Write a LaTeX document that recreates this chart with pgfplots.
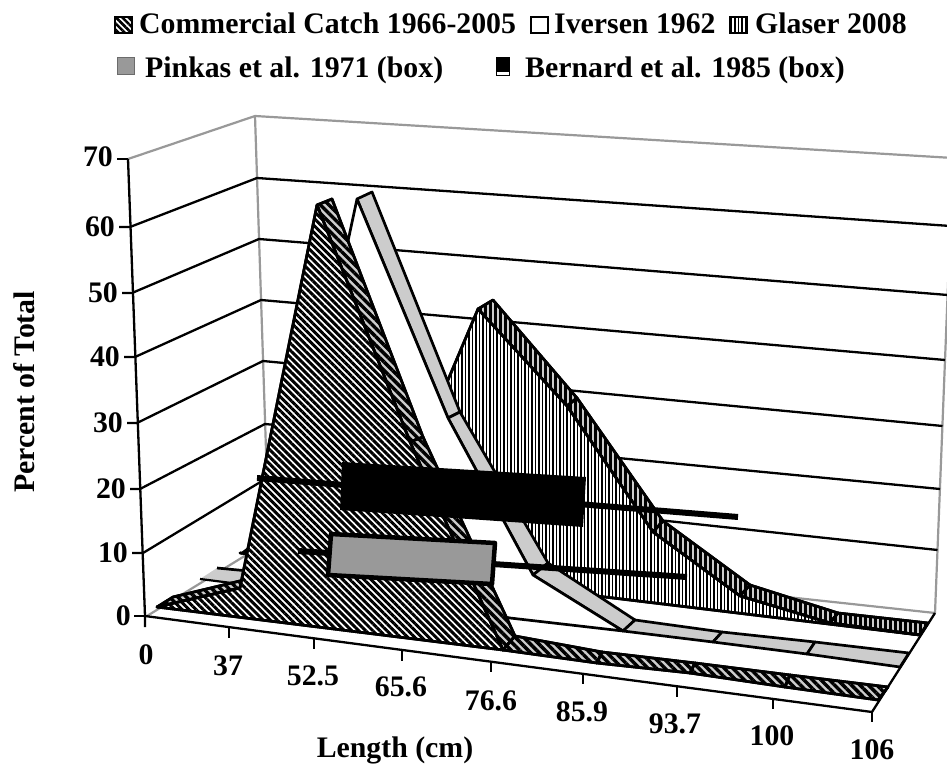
\documentclass[border=0pt]{standalone}
\usepackage{fontspec}
\setmainfont{Liberation Serif}
\usepackage{pgfplots}
\pgfplotsset{compat=1.18}
\usetikzlibrary{patterns.meta}
\definecolor{wallgrey}{gray}{0.6}
\definecolor{ribgrey}{gray}{0.8}
\definecolor{boxgrey}{gray}{0.6}
\tikzset{
  ln/.style={draw=black,line width=#1,line join=round,line cap=butt},
  comF/.style={draw=black,line width=2.7pt,line join=round,fill=white,postaction={pattern={Lines[angle=-45,distance=5pt,line width=3pt]},pattern color=black}},
  comR/.style={draw=black,line width=2.7pt,line join=round,fill=ribgrey,postaction={pattern={Lines[angle=-45,distance=6pt,line width=3.4pt]},pattern color=black}},
  glaF/.style={draw=black,line width=2.7pt,line join=round,fill=white,postaction={pattern={Lines[angle=90,distance=3.5pt,line width=1.8pt]},pattern color=black}},
  glaR/.style={draw=black,line width=2.7pt,line join=round,fill=ribgrey,postaction={pattern={Lines[angle=90,distance=5pt,line width=3pt]},pattern color=black}},
  ivF/.style={draw=black,line width=2.7pt,line join=round,fill=white},
  ivR/.style={draw=black,line width=2.7pt,line join=round,fill=ribgrey},
  txt/.style={font=\fontsize{29.8}{32}\selectfont\bfseries,inner sep=0pt},
}
\begin{document}
\begin{tikzpicture}
\begin{axis}[
  scale only axis, width=947pt, height=767pt,
  xmin=0, xmax=947, ymin=0, ymax=767, y dir=reverse,
  hide axis, clip=true,
]
% page background
\addplot[fill=white,draw=none] coordinates {(0,0)(947,0)(947,767)(0,767)} --cycle;
% walls (picture coordinates of the Excel 3-D projection)
\addplot[draw=wallgrey,line width=2.2pt] coordinates {(128,159)(255,116)(953,158)};
\addplot[draw=wallgrey,line width=2.2pt] coordinates {(255,116)(269,541)};
\addplot[draw=wallgrey,line width=2.2pt] coordinates {(953,158)(935,613)};
\addplot[draw=wallgrey,line width=2.2pt] coordinates {(147,616)(269,541)(935,613)};
% grid 60..10 with ticks
\addplot[ln=2.3pt] coordinates {(119,227)(130,227)(257,178)(950.5,226)};
\addplot[ln=2.3pt] coordinates {(122,293)(132,293)(259,239)(947.7,295)};
\addplot[ln=2.3pt] coordinates {(124,357)(135,357)(261,300)(945,360)};
\addplot[ln=2.3pt] coordinates {(127,423)(137,423)(263,361)(942.5,426)};
\addplot[ln=2.3pt] coordinates {(130,489)(140,489)(265,424)(940,489)};
\addplot[ln=2.3pt] coordinates {(132,553)(143,553)(267,478)(937.5,550)};
\addplot[ln=2.3pt] coordinates {(117,159)(128,159)};
\addplot[ln=2.3pt] coordinates {(134,616)(145,616)};
% axis lines
\addplot[ln=2.3pt] coordinates {(128,159)(145,616)(145,627)};
\addplot[ln=2.3pt] coordinates {(145,616)(872,712)(935,613)};
% x ticks
\addplot[ln=2.3pt] coordinates {(229,628)(229,638)};
\addplot[ln=2.3pt] coordinates {(314,639)(314,649)};
\addplot[ln=2.3pt] coordinates {(402,651)(402,661)};
\addplot[ln=2.3pt] coordinates {(491,662)(491,672)};
\addplot[ln=2.3pt] coordinates {(583,674)(583,684)};
\addplot[ln=2.3pt] coordinates {(677,687)(677,697)};
\addplot[ln=2.3pt] coordinates {(773,698)(773,709)};
\addplot[ln=2.3pt] coordinates {(872,712)(872,722)};
% Glaser 2008
\addplot[fill=black,draw=none] coordinates {(240,553)(248,547)(248,553)} --cycle;
\addplot[glaR] coordinates {(478,309)(493,300)(577,398)(567,406)} --cycle;
\addplot[glaR] coordinates {(567,406)(577,398)(663,521)(653,532)} --cycle;
\addplot[glaR] coordinates {(653,532)(663,521)(750,585)(740,596)} --cycle;
\addplot[glaR] coordinates {(740,596)(750,585)(838,613)(830,623)} --cycle;
\addplot[glaR] coordinates {(830,623)(838,613)(928,623)(920,635)} --cycle;
\addplot[glaF] coordinates {(240,553)(310,560)(390,517)(478,309)(567,406)(653,532)(740,596)(830,623)(920,635)} --cycle;
% Iversen 1962
\addplot[fill=ribgrey,draw=none] coordinates {(200,579)(217,568)(290,575)(275,586)} --cycle;
\addplot[ln=2.7pt] coordinates {(217,568)(290,575)};
\addplot[ivR] coordinates {(357,199)(372,192)(460,412)(448,418)} --cycle;
\addplot[ivR] coordinates {(448,418)(460,412)(548,563)(533,575)} --cycle;
\addplot[ivR] coordinates {(533,575)(548,563)(635,620)(623,631)} --cycle;
\addplot[ivR] coordinates {(623,631)(635,620)(722,632)(713,642)} --cycle;
\addplot[ivR] coordinates {(713,642)(722,632)(815,642)(807,654)} --cycle;
\addplot[ivR] coordinates {(807,654)(815,642)(909,653)(900,667)} --cycle;
\addplot[ivF] coordinates {(275,583)(357,199)(448,418)(533,575)(623,631)(510,618)} --cycle;
\addplot[ln=2.2pt] coordinates {(200,579)(510,618)};
% Commercial Catch 1966-2005
\addplot[comR] coordinates {(157,607)(173,597)(244,580)(240,588)} --cycle;
\addplot[comR] coordinates {(317,205)(332,199)(423,437)(410,442)} --cycle;
\addplot[comR] coordinates {(410,442)(423,437)(515,636)(503,650)} --cycle;
\addplot[comR] coordinates {(503,650)(515,636)(602,652)(597,663)} --cycle;
\addplot[comR] coordinates {(597,663)(602,652)(695,663)(690,673)} --cycle;
\addplot[comR] coordinates {(690,673)(695,663)(790,675)(785,687)} --cycle;
\addplot[comR] coordinates {(785,687)(790,675)(888,687)(878,700)} --cycle;
\addplot[comF] coordinates {(157,607)(240,588)(317,205)(410,442)(503,650)} --cycle;
% Bernard et al. 1985 (box)
\addplot[ln=6pt] coordinates {(257,478)(738,517)};
\addplot[fill=black,draw=none] coordinates {(342,462)(586,477)(583,527)(340,510)} --cycle;
% Pinkas et al. 1971 (box)
\addplot[ln=6pt] coordinates {(298,551)(687,577)};
\addplot[fill=boxgrey,ln=4.5pt] coordinates {(331,534)(495,543)(492,584)(328,575)} --cycle;
% legend swatches
\addplot[draw=black,line width=1.5pt,fill=white,postaction={pattern={Lines[angle=-45,distance=4.5pt,line width=2.6pt]},pattern color=black}] coordinates {(115,17)(132,17)(132,33)(115,33)} --cycle;
\addplot[draw=black,line width=1.5pt,fill=white] coordinates {(531,17)(548,17)(548,33)(531,33)} --cycle;
\addplot[draw=black,line width=1.5pt,fill=white,postaction={pattern={Lines[angle=90,distance=3.5pt,line width=1.8pt]},pattern color=black}] coordinates {(730,17)(747,17)(747,33)(730,33)} --cycle;
\addplot[draw=wallgrey!70!black,line width=1pt,fill=boxgrey] coordinates {(117,58)(134,58)(134,75)(117,75)} --cycle;
\addplot[draw=black,line width=1pt,fill=black] coordinates {(496,58)(509,58)(509,72)(496,72)} --cycle;
\addplot[draw=black,line width=1pt] coordinates {(509,58)(509,76)(496,76)(496,58)};
% legend text
\node[txt,anchor=base west] at (axis cs:139,34) {Commercial Catch 1966-2005};
\node[txt,anchor=base west] at (axis cs:554,34) {Iversen 1962};
\node[txt,anchor=base west] at (axis cs:755,34) {Glaser 2008};
\node[txt,anchor=base west] at (axis cs:145,78) {Pinkas et al. 1971 (box)};
\node[txt,anchor=base west] at (axis cs:525,78) {Bernard et al. 1985 (box)};
% y tick labels
\node[txt,anchor=east] at (axis cs:113,157) {70};
\node[txt,anchor=east] at (axis cs:115,227) {60};
\node[txt,anchor=east] at (axis cs:118,293) {50};
\node[txt,anchor=east] at (axis cs:120,357) {40};
\node[txt,anchor=east] at (axis cs:123,423) {30};
\node[txt,anchor=east] at (axis cs:126,489) {20};
\node[txt,anchor=east] at (axis cs:128,553) {10};
\node[txt,anchor=east] at (axis cs:131,616) {0};
% x tick labels
\node[txt] at (axis cs:146,655) {0};
\node[txt] at (axis cs:228,666) {37};
\node[txt] at (axis cs:313,676) {52.5};
\node[txt] at (axis cs:401,687) {65.6};
\node[txt] at (axis cs:491,701) {76.6};
\node[txt] at (axis cs:582,712) {85.9};
\node[txt] at (axis cs:675,724) {93.7};
\node[txt] at (axis cs:772,736) {100};
\node[txt] at (axis cs:872,750) {106};
% axis titles
\node[txt] at (axis cs:395,750) {Length (cm)};
\node[txt,rotate=90] at (axis cs:24,392) {Percent of Total};
\end{axis}
\end{tikzpicture}
\end{document}
